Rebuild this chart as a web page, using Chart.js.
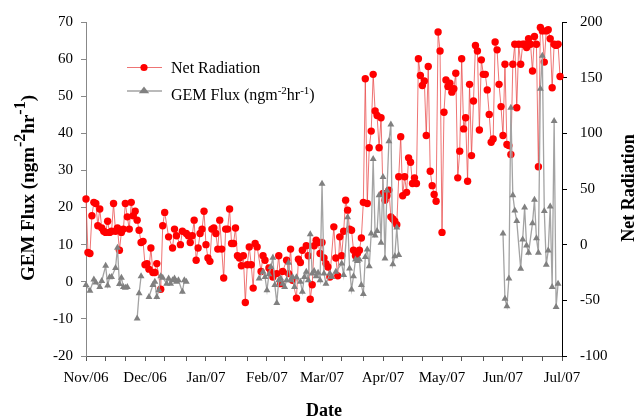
<!DOCTYPE html>
<html>
<head>
<meta charset="utf-8">
<script src="https://cdn.jsdelivr.net/npm/chart.js@4/dist/chart.umd.min.js"></script>
<style>
  html, body { margin: 0; padding: 0; background: #fff; }
  canvas { display: block; }
</style>
</head>
<body>
<canvas id="chart" width="636" height="418"></canvas>
<script>
// Month ticks, counted in days from 1 Nov 2006
const monthStarts = [0, 30, 61, 92, 120, 151, 181, 212, 242];
const monthLabels = ['Nov/06', 'Dec/06', 'Jan/07', 'Feb/07', 'Mar/07', 'Apr/07', 'May/07', 'Jun/07', 'Jul/07'];

// Daily net radiation (index = day since 1 Nov 2006, null = no reading)
const radValues = [
  41, -7, -8, 26, 38, 37, 17, 32, 15, 12,
  11, 21, 11, 12, 37, 12, 15, -5, 11, 14,
  37, 25, 14, 38, 26, 30, 22, 13, 2, 3,
  -18, -17, -22, -3, -25, -25, -17, null, -40, 17,
  29, null, 7, null, -3, 14, 8, null, 0, 12,
  null, 10, 8, 2, 8, 22, -14, -3, 10, 14,
  30, 0, -12, -15, 14, 15, 10, -4, 22, -4,
  -30, 14, 14, 32, 1, 1, 15, -10, -12, -19,
  -10, -52, -18, -2, -18, -39, 1, -2, null, -24,
  -10, -14, null, -21, -24, -29, null, -26, -10, -35,
  -24, null, -14, -26, -4, -32, null, -48, -13, -16,
  -5, null, -1, -10, -49, -36, -1, 4, 2, -8,
  2, -12, -17, -20, -29, null, 16, -12, -28, 7,
  -10, 12, 40, 31, 14, 13, -5, -10, -8, -5,
  6, 38, 149, 37, 87, 102, 153, 120, 116, 87,
  114, 46, 40, 44, 49, 25, 23, 21, 18, 61,
  97, 44, 61, 47, 78, 74, 55, 60, 55, 167,
  152, 143, 147, 98, 160, 66, 53, 45, 39, 191,
  174, 11, 119, 148, 142, 145, 137, 140, 154, 60,
  84, 167, 104, 114, 57, 144, 80, 129, 179, 174,
  103, 166, 153, 153, 139, 117, 92, 95, 182, 175,
  144, 124, 98, 162, 90, 89, 81, 162, 180, 123,
  180, 162, 180, 180, 177, 185, 180, 156, 187, 180,
  70, 195, 192, 164, 192, 193, 185, 141, 180, 179,
  180, 151
];

// GEM flux measurements; a null value breaks the line between campaigns
const fluxDays = [
  0, 2, 4, 5, 7, 8, 10, 11, 12, 13, 15, 16, 17, 18, 19, 20, 21, 23,
  26, 27, 28, 30,
  32, 34, 35, 36, 37, 38, 39, 41, 42, 43, 44, 45, 46, 47, 49, 50, 51, 70,
  88, 90, 91, 92, 93, 94, 95, 96, 97, 98, 99, 100, 101, 102, 103, 104, 105, 106, 107,
  109, 110, 111, 112, 113, 114, 115, 116, 117, 118, 119, 120, 121, 122, 124, 125, 127,
  130, 131, 133, 134, 135, 136, 137, 138, 139, 140, 141, 142, 143, 144, 145, 146, 147,
  148, 149, 150, 151, 152, 153, 154, 155, 156, 157, 158, 159, 185,
  212, 213, 214, 215, 216, 217, 218, 219, 221, 222, 223, 224, 225, 227, 228, 229, 230,
  231, 232, 233, 234, 235, 236, 237, 238, 239, 240
];
const fluxValues = [
  -0.9, -2.4, 0.6, -0.2, -1.4, 0.2, 4.3, -1, 1.2, 1.3, 3.7, 9.2, -0.6, 1.1, -1.4, -1.6, -1.4, null,
  -9.9, -3.1, 1.5, null,
  -4.1, -0.9, 0, -4.1, -2.3, 1.5, 1.1, -0.5, 0.9, -0.5, 0.4, 0.9, 0, 0.4, -2.7, 0.4, 0, null,
  0.9, 2.7, 1.3, -2.3, 2, 4, 6.5, -0.9, -5.7, 0.4, 0.9, -0.5, -1.4, 0.4, 5.1, 0.4, 1.3, -1.4, 1.2,
  0, -2.7, 1.3, 2.7, 0.4, 12.8, 2.2, 2.9, 1.5, 2.4, 0.4, 26.4, 2.2, -0.5, 2.2, 1.3, 2.7,
  4.9, 1.8, 17.4, 3.6, -2.1, 1.5, 6, 5.6, 6, -0.9, -3.3, 6.7, 8.7, 4.2, 13, 33.1, 12.5,
  13.7, 23.3, 10.5, 28.2, 6.3, 24.6, 37.9, 42.4, 4.7, 6.9, 14.6, 7.2, null,
  13, -4.6, -6.6, 0.9, 46.9, 23.3, 19.2, 16.4, 3.5, 11.4, 20, 9.8, 7.8, 15.8, 22.1, 11.7, 7.8,
  52, 60.9, 19.1, 4.6, 8.4, 20.3, -1.4, 43.3, -6.8, -0.5
];

// month starts plus two minor ticks inside each month
const tickDays = [];
monthStarts.forEach((d, i) => {
  tickDays.push(d);
  if (i < monthStarts.length - 1) {
    const len = monthStarts[i + 1] - d;
    tickDays.push(d + Math.round(len / 3), d + Math.round(2 * len / 3));
  }
});

const serif = '"Liberation Serif", "Times New Roman", serif';
const RED = '#ff0000';
const RED_LINE = 'rgba(232, 70, 70, 0.75)';
const GREY = '#808080';
const GREY_LINE = '#a3a3a3';

// draws text with superscript runs, starting at x (left aligned)
function drawRich(ctx, parts, x, y, font, supFont, rise) {
  let cx = x;
  parts.forEach(p => {
    ctx.font = p.sup ? supFont : font;
    ctx.fillText(p.t, cx, p.sup ? y - rise : y);
    cx += ctx.measureText(p.t).width;
  });
  return cx - x;
}

function richWidth(ctx, parts, font, supFont) {
  let w = 0;
  parts.forEach(p => {
    ctx.font = p.sup ? supFont : font;
    w += ctx.measureText(p.t).width;
  });
  return w;
}

const unitParts = [
  { t: 'GEM Flux (ngm' }, { t: '-2', sup: true }, { t: 'hr' }, { t: '-1', sup: true }, { t: ')' }
];

function drawCircle(ctx, x, y, r) {
  ctx.beginPath();
  ctx.arc(x, y, r, 0, Math.PI * 2);
  ctx.fill();
}

function drawTriangle(ctx, x, y, r) {
  const h = r * 1.5;
  const half = r * 1.3;
  ctx.beginPath();
  ctx.moveTo(x, y - r);
  ctx.lineTo(x + half, y - r + h + 0.7);
  ctx.lineTo(x - half, y - r + h + 0.7);
  ctx.closePath();
  ctx.fill();
}

// axis titles and the in-plot legend
const overlay = {
  id: 'overlay',
  afterDraw(chart) {
    const ctx = chart.ctx;
    ctx.save();
    ctx.fillStyle = '#000';
    ctx.textBaseline = 'alphabetic';

    ctx.font = 'bold 18px ' + serif;
    ctx.textAlign = 'center';
    ctx.fillText('Date', 324, 416);

    ctx.save();
    ctx.translate(634, 188);
    ctx.rotate(-Math.PI / 2);
    ctx.fillText('Net Radiation', 0, 0);
    ctx.restore();

    // left title, rotated, with superscripts
    ctx.textAlign = 'left';
    const tFont = 'bold 19px ' + serif;
    const tSup = 'bold 16px ' + serif;
    ctx.save();
    ctx.translate(34, 188);
    ctx.rotate(-Math.PI / 2);
    const tw = richWidth(ctx, unitParts, tFont, tSup);
    drawRich(ctx, unitParts, -tw / 2, 0, tFont, tSup, 9);
    ctx.restore();

    // legend
    ctx.lineWidth = 1;
    ctx.strokeStyle = RED_LINE;
    ctx.beginPath();
    ctx.moveTo(127, 67.5);
    ctx.lineTo(162, 67.5);
    ctx.stroke();
    ctx.fillStyle = RED;
    drawCircle(ctx, 144, 67.5, 3.6);

    ctx.strokeStyle = GREY_LINE;
    ctx.lineWidth = 1.3;
    ctx.beginPath();
    ctx.moveTo(127, 91);
    ctx.lineTo(162, 91);
    ctx.stroke();
    ctx.fillStyle = GREY;
    drawTriangle(ctx, 144, 90.5, 4);

    ctx.fillStyle = '#000';
    ctx.font = '16px ' + serif;
    ctx.fillText('Net Radiation', 171, 73);
    drawRich(ctx, unitParts, 171, 100, '16px ' + serif, '11px ' + serif, 6);
    ctx.restore();
  }
};

const radData = radValues.map((v, i) => ({ x: i, y: v }));
const fluxData = fluxDays.map((d, i) => ({ x: d, y: fluxValues[i] }));

const ctx = document.getElementById('chart').getContext('2d');

new Chart(ctx, {
  type: 'line',
  data: {
    datasets: [
      {
        label: 'Net Radiation',
        data: radData,
        yAxisID: 'y1',
        borderColor: RED_LINE,
        borderWidth: 1,
        pointStyle: 'circle',
        pointRadius: 3.7,
        pointBackgroundColor: RED,
        pointBorderColor: RED,
        pointBorderWidth: 0,
        spanGaps: true,
        tension: 0,
        clip: false,
        order: 2
      },
      {
        label: 'GEM Flux',
        data: fluxData,
        yAxisID: 'y',
        borderColor: GREY_LINE,
        borderWidth: 1.3,
        pointStyle: 'triangle',
        pointRadius: 4,
        pointBackgroundColor: GREY,
        pointBorderColor: GREY,
        pointBorderWidth: 0,
        spanGaps: false,
        tension: 0,
        clip: false,
        order: 1
      }
    ]
  },
  options: {
    responsive: false,
    animation: false,
    events: [],
    layout: { padding: { top: 21, left: 0, right: 0, bottom: 0 } },
    plugins: {
      legend: { display: false },
      tooltip: { enabled: false }
    },
    scales: {
      x: {
        type: 'linear',
        min: 0,
        max: 242,
        afterFit: scale => { scale.height = 62; },
        afterBuildTicks: scale => {
          scale.ticks = tickDays.map(v => ({ value: v }));
        },
        grid: { drawOnChartArea: false, drawTicks: true, tickLength: 5, color: '#555' },
        border: { display: true, color: '#555', width: 1 },
        ticks: {
          autoSkip: false,
          maxRotation: 0,
          padding: 8,
          color: '#000',
          font: { family: serif, size: 15 },
          callback: value => {
            const i = monthStarts.indexOf(value);
            return i >= 0 ? monthLabels[i] : '';
          }
        }
      },
      y: {
        position: 'left',
        min: -20,
        max: 70,
        afterFit: scale => { scale.width = 86; },
        grid: { drawOnChartArea: false, drawTicks: true, tickLength: 5, color: '#888' },
        border: { display: true, color: '#888', width: 1 },
        ticks: {
          stepSize: 10,
          padding: 8,
          color: '#000',
          font: { family: serif, size: 15 }
        }
      },
      y1: {
        position: 'right',
        min: -100,
        max: 200,
        afterFit: scale => { scale.width = 74; },
        grid: { drawOnChartArea: false, drawTicks: true, tickLength: 5, color: '#000' },
        border: { display: true, color: '#000', width: 1 },
        ticks: {
          stepSize: 50,
          padding: 13,
          color: '#000',
          font: { family: serif, size: 15 }
        }
      }
    }
  },
  plugins: [overlay]
});
</script>
</body>
</html>
